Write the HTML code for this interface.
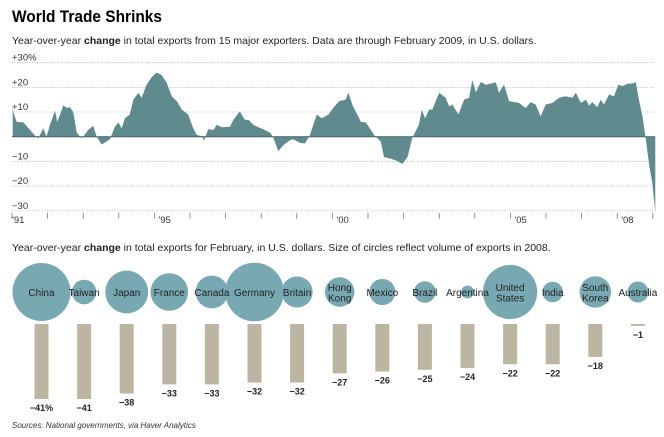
<!DOCTYPE html>
<html><head><meta charset="utf-8">
<style>
html,body{margin:0;padding:0;background:#fff;}
body{width:664px;height:437px;overflow:hidden;font-family:"Liberation Sans",sans-serif;}
svg{display:block;}
</style></head>
<body>
<svg id="chart" width="664" height="437" viewBox="0 0 664 437" xmlns="http://www.w3.org/2000/svg" font-family="Liberation Sans, sans-serif">
<text x="12" y="22" font-size="17" font-weight="bold" fill="#000" textLength="150" lengthAdjust="spacingAndGlyphs">World Trade Shrinks</text>
<text x="12" y="44" font-size="10.5" fill="#222">Year-over-year <tspan font-weight="bold">change</tspan> in total exports from 15 major exporters. Data are through February 2009, in U.S. dollars.</text>
<g id="topArea"></g>
<text x="12" y="251" font-size="10.5" fill="#222">Year-over-year <tspan font-weight="bold">change</tspan> in total exports for February, in U.S. dollars. Size of circles reflect volume of exports in 2008.</text>
<g id="bottomArea"></g>
<text x="12" y="428" font-size="8" font-style="italic" fill="#333">Sources: National governments, via Haver Analytics</text>
</svg>
<script>
const years = [1991.02,1991.04,1991.13,1991.32,1991.69,1991.74,1991.88,1991.97,1992.07,1992.21,1992.27,1992.35,1992.44,1992.54,1992.63,1992.72,1992.82,1992.96,1993.14,1993.28,1993.38,1993.52,1993.75,1993.89,1993.99,1994.08,1994.17,1994.31,1994.41,1994.55,1994.64,1994.78,1994.92,1995.06,1995.20,1995.34,1995.49,1995.63,1995.77,1995.95,1996.09,1996.19,1996.33,1996.39,1996.51,1996.66,1996.75,1996.89,1997.12,1997.22,1997.40,1997.54,1997.64,1997.78,1997.92,1998.06,1998.25,1998.34,1998.48,1998.62,1998.81,1998.90,1999.09,1999.23,1999.37,1999.56,1999.70,1999.89,2000.02,2000.19,2000.37,2000.45,2000.56,2000.80,2000.94,2001.17,2001.36,2001.45,2001.64,2001.78,2001.97,2002.11,2002.25,2002.43,2002.51,2002.60,2002.72,2002.81,2003.00,2003.18,2003.28,2003.37,2003.54,2003.70,2003.84,2003.93,2004.03,2004.17,2004.31,2004.45,2004.59,2004.68,2004.82,2004.96,2005.24,2005.43,2005.57,2005.71,2005.85,2005.99,2006.18,2006.37,2006.55,2006.74,2006.84,2006.98,2007.12,2007.21,2007.30,2007.44,2007.54,2007.63,2007.77,2007.91,2008.03,2008.15,2008.29,2008.43,2008.52,2008.61,2008.71,2008.80,2008.90,2008.99,2009.07];
const changes = [12.3,10,6,5.8,-0.3,-0.7,3.4,0,5,10.5,6,9,12.7,11.6,12,10,1.6,-0.7,2.7,4.4,0,-3.2,-1,4,5.8,3.4,7.5,9,15,17.8,15.8,21,24,26,25,22,16.4,14.4,11,9,3.4,0.7,0.3,-1.6,3,2.7,4.8,3.8,4,6.8,10.3,6.8,6.8,4.8,3.8,3,1.6,-0.3,-5.9,-3.4,-1.4,-1,-2.5,-2.7,0.7,9,7.5,9,11.6,14.4,15,17.8,13,6,5.8,0.7,-2,-8.2,-8.9,-9.6,-11,-8.2,-0.3,4.8,11,7.5,11,11,17.8,15.8,12.3,13,9,15,15.8,22.9,18,22.2,21,21.5,22,17.8,21,14.4,13.7,11.6,14,13,8.2,13,13.7,15.8,16.4,15.8,17.8,13.7,15,12.6,14,12,15,13,17.1,16.4,21,20.5,21.5,21.5,22.2,15,8.2,-0.7,-11.6,-19,-30.8];
const yTicks = [30,20,10,-10,-20,-30];
const yTickLabels = ["+30%","+20","+10","\u221210","\u221220","\u221230"];
const yearTicks = [1991,1992,1993,1994,1995,1996,1997,1998,1999,2000,2001,2002,2003,2004,2005,2006,2007,2008,2009];
const yearLabels = {1991:"'91",1995:"'95",2000:"'00",2005:"'05",2008:"'08"};

const countries = ["China","Taiwan","Japan","France","Canada","Germany","Britain","Hong Kong","Mexico","Brazil","Argentina","United States","India","South Korea","Australia"];
const febChange = [-41,-41,-38,-33,-33,-32,-32,-27,-26,-25,-24,-22,-22,-18,-1];
const exports2008 = [1430,255,780,600,455,1460,410,370,290,198,70,1250,180,420,187];

const NS="http://www.w3.org/2000/svg";
function mk(tag,attrs,parent){const e=document.createElementNS(NS,tag);for(const k in attrs)e.setAttribute(k,attrs[k]);parent.appendChild(e);return e;}
const xs = y => 12 + (y-1991)*35.6;
const ys = v => 136.7 - v*2.47;

const topG = document.getElementById('topArea');
yTicks.forEach((t,i)=>{
  const l=mk('line',{x1:12,x2:655,y1:ys(t),y2:ys(t),stroke:'#999','stroke-width':0.6,'stroke-dasharray':'1,1.5'},topG);
  
  
  const tx=mk('text',{x:12,y:ys(t)-2,'font-size':9.5,fill:'#333'},topG);
  tx.textContent=yTickLabels[i];
  
  
});
let d='M'+xs(years[0])+','+ys(0);
years.forEach((y,i)=>{d+=' L'+xs(y).toFixed(1)+','+ys(changes[i]).toFixed(1);});
d+=' L'+xs(years[years.length-1])+','+ys(0)+' Z';
const area=mk('path',{d:d,fill:'#5f8b8f'},topG);


const zl=mk('line',{x1:12,x2:655,y1:ys(0),y2:ys(0),stroke:'#3f6468','stroke-width':1},topG);


yearTicks.forEach(y=>{
  const tk=mk('line',{x1:xs(y),x2:xs(y),y1:ys(-30)+2,y2:ys(-30)+8,stroke:'#666','stroke-width':0.7},topG);
  
  
  if(yearLabels[y]){
    const tx=mk('text',{x:xs(y)+(y===1991?0:4),y:ys(-30)+12,'font-size':9.5,fill:'#333'},topG);
    tx.textContent=yearLabels[y];
    
    
  }
});

const botG=document.getElementById('bottomArea');
const cx = i => 41.5 + i*42.6;
const rScale = v => 0.767*Math.sqrt(v);
const barTop=324, pxPer=1.83;
exports2008.forEach((v,i)=>{
  const c=mk('circle',{cx:cx(i),cy:292,r:rScale(v),fill:'#78a9b2'},botG);
  
  
});
countries.forEach((n,i)=>{
  const parts = n.split(' ');
  const two = parts.length>1;
  parts.forEach((p,j)=>{
    const t=mk('text',{x:cx(i),y:two?(296+(j-0.5)*10.5):296,'font-size':10,'text-anchor':'middle',fill:'#222'},botG);
    t.textContent=p;
    
    
  });
  const h=Math.abs(febChange[i])*pxPer;
  const b=mk('rect',{x:cx(i)-7,y:barTop,width:14,height:Math.max(h,1.5),fill:'#bcb5a1'},botG);
  
  
  const lt=mk('text',{x:cx(i),y:barTop+Math.max(h,1.5)+12,'font-size':9,'font-weight':'bold','text-anchor':'middle',fill:'#222'},botG);
  lt.textContent='\u2212'+Math.abs(febChange[i])+(i===0?'%':'');
  
  
});
</script>
</body></html>
